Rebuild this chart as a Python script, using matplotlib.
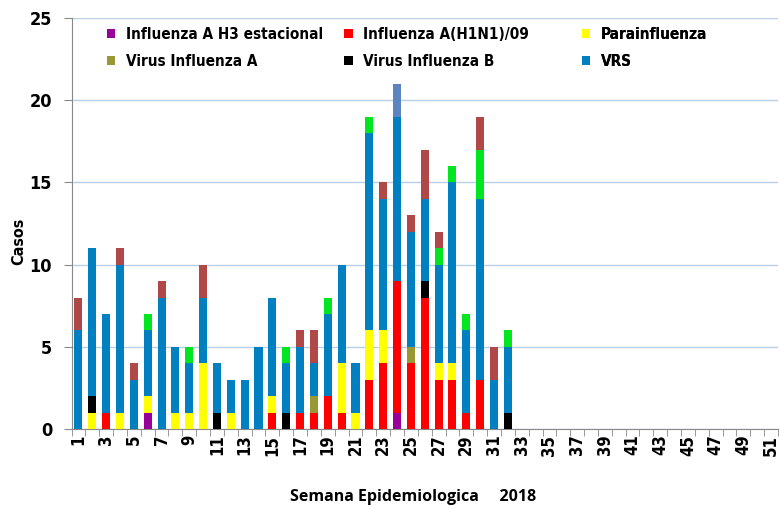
import matplotlib.pyplot as plt
import numpy as np

plt.rcParams['font.family'] = ['DejaVu Sans']
plt.rcParams['font.stretch'] = 'condensed'

weeks = list(range(1, 52))

# casos por semana (semanas 1-32, resto en cero)
h3 =    [0,0,0,0,0,1,0,0,0,0,0,0,0,0,0,0,0,0,0,0,0,0,0,1,0,0,0,0,0,0,0,0]
h1n1 =  [0,0,1,0,0,0,0,0,0,0,0,0,0,0,1,0,1,1,2,1,0,3,4,8,4,8,3,3,1,3,0,0]
para =  [0,1,0,1,0,1,0,1,1,4,0,1,0,0,1,0,0,0,0,3,1,3,2,0,0,0,1,1,0,0,0,0]
flu_a = [0,0,0,0,0,0,0,0,0,0,0,0,0,0,0,0,0,1,0,0,0,0,0,0,1,0,0,0,0,0,0,0]
flu_b = [0,1,0,0,0,0,0,0,0,0,1,0,0,0,0,1,0,0,0,0,0,0,0,0,0,1,0,0,0,0,0,1]
vrs =   [6,9,6,9,3,4,8,4,3,4,3,2,3,5,6,3,4,2,5,6,3,12,8,10,7,5,6,11,5,11,3,4]
adeno = [0,0,0,0,0,1,0,0,1,0,0,0,0,0,0,1,0,0,1,0,0,1,0,0,0,0,1,1,1,3,0,1]
meta =  [2,0,0,1,1,0,1,0,0,2,0,0,0,0,0,0,1,2,0,0,0,0,1,0,1,3,1,0,0,2,2,0]
otros = [0,0,0,0,0,0,0,0,0,0,0,0,0,0,0,0,0,0,0,0,0,0,0,2,0,0,0,0,0,0,0,0]

def pad(v):
    return np.array(v + [0] * (len(weeks) - len(v)))

series = [
    ('Influenza A H3 estacional', h3, '#990099'),
    ('Influenza A(H1N1)/09', h1n1, '#ff0000'),
    ('Parainfluenza', para, '#ffff00'),
    ('Virus Influenza A', flu_a, '#999933'),
    ('Virus Influenza B', flu_b, '#000000'),
    ('VRS', vrs, '#0080c0'),
    ('Adenovirus', adeno, '#00e620'),
    ('Metapneumovirus', meta, '#b04848'),
    ('Otros', otros, '#5b84c0'),
]

fig = plt.figure(figsize=(7.8, 5.09), dpi=100)
ax = fig.add_axes([71.5 / 780, 0.157, 706.5 / 780, 0.8076])

x = np.arange(len(weeks))
bottom = np.zeros(len(weeks))
handles = {}
for name, vals, col in series:
    v = pad(vals)
    b = ax.bar(x, v, 0.58, bottom=bottom, color=col, label=name, zorder=3)
    handles[name] = b
    bottom += v

ax.set_xlim(-0.5, len(weeks) - 0.5)
ax.set_ylim(0, 25)
ax.set_yticks(range(0, 26, 5))
ax.yaxis.grid(True, color='#b8cfe8', linewidth=1, zorder=0)
for s in ['top', 'right']:
    ax.spines[s].set_visible(False)
for s in ['left', 'bottom']:
    ax.spines[s].set_color('#888888')

ax.set_xticks(x[::2])
ax.set_xticklabels([str(w) for w in weeks[::2]], rotation=90, fontsize=12, fontweight='bold')
ax.set_xticks(np.arange(-0.5, len(weeks), 1), minor=True)
ax.tick_params(axis='x', which='major', length=0, pad=4)
ax.tick_params(axis='x', which='minor', length=5, color='#888888')
ax.tick_params(axis='y', length=6, color='#888888', labelsize=13, pad=8)
for t in ax.get_yticklabels():
    t.set_fontweight('bold')

fig.text(19 / 780, 1 - 241 / 509, 'Casos', rotation=90, fontsize=11.5, fontweight='bold',
         ha='center', va='center')
fig.text(0.529, 0.024, 'Semana Epidemiologica     2018', fontsize=11.5, fontweight='bold',
         family=['Open Sans', 'DejaVu Sans'], stretch='condensed', ha='center', va='center')

# tres columnas de leyenda, cada una en su sitio
cols = [['Influenza A H3 estacional', 'Virus Influenza A'],
        ['Influenza A(H1N1)/09', 'Virus Influenza B'],
        ['Parainfluenza', 'VRS']]
col_x = [0.050, 0.386, 0.722]
for names, cx in zip(cols, col_x):
    lg = ax.legend([handles[n] for n in names], names, frameon=False,
                   loc='upper left', bbox_to_anchor=(cx, 0.978), borderaxespad=0,
                   borderpad=0, handlelength=0.55, handleheight=0.55,
                   handletextpad=0.7, labelspacing=0.75,
                   prop={'weight': 'bold', 'size': 11})
    ax.add_artist(lg)

fig.savefig('out.png')
